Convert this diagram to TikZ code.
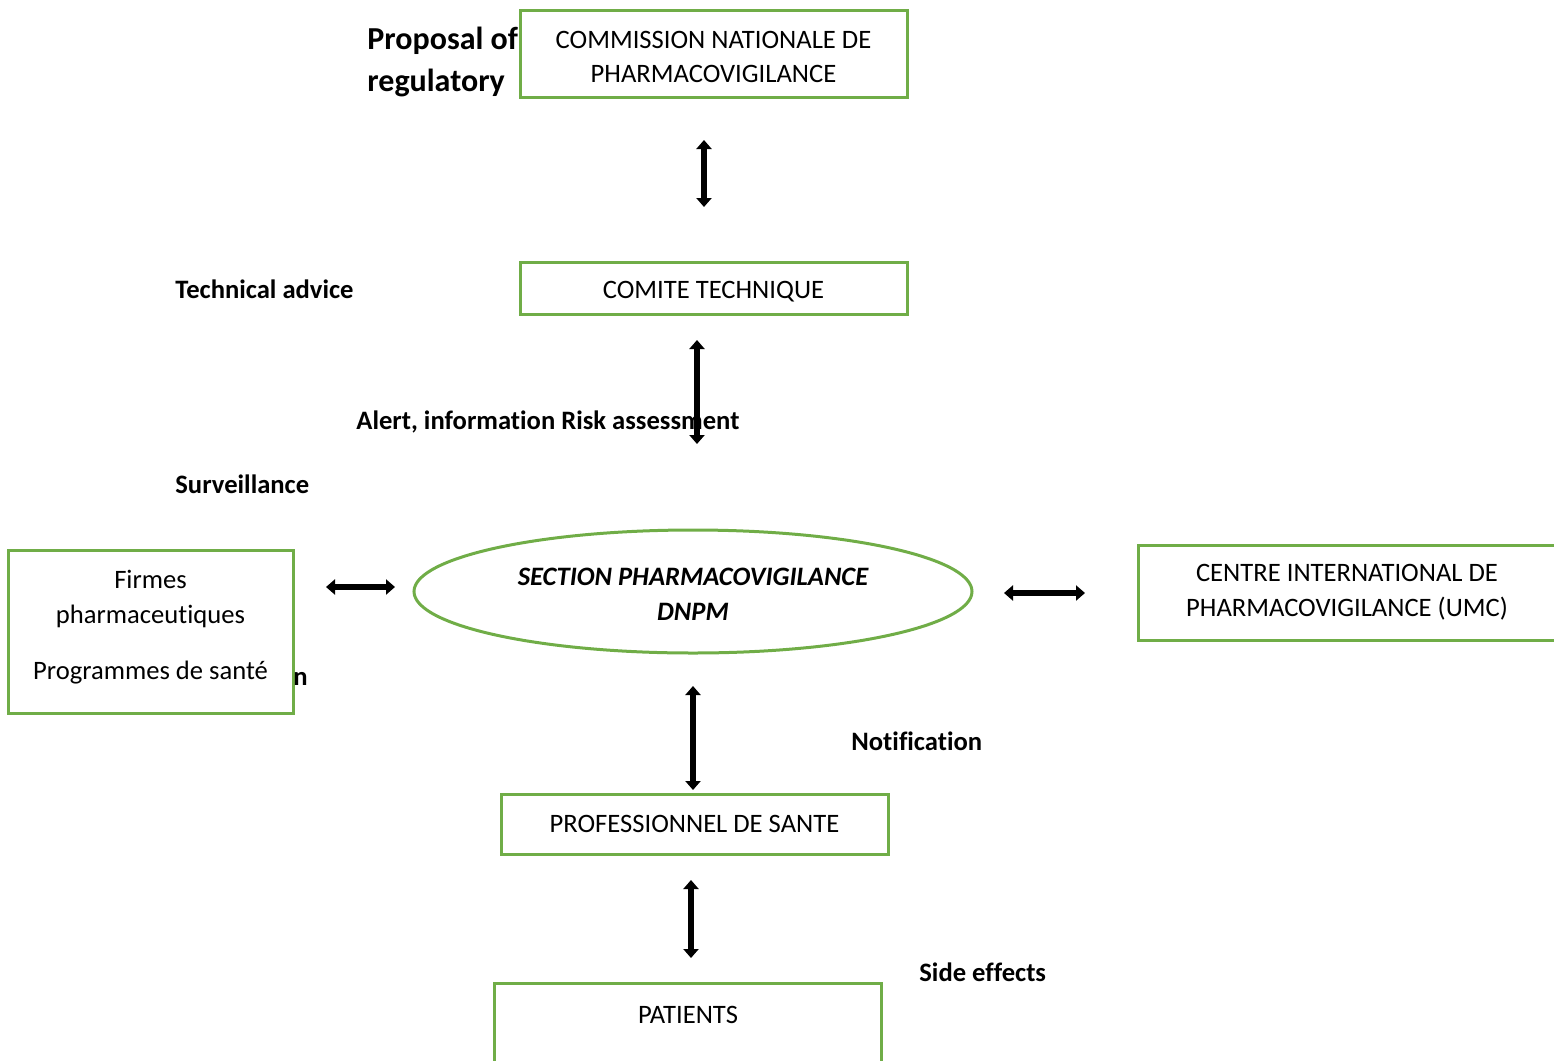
\documentclass[tikz,border=0pt]{standalone}
\usepackage{fontspec}
\setmainfont[Ligatures=NoCommon]{Carlito}
\usetikzlibrary{arrows.meta,shapes.geometric}
\definecolor{pv_green}{RGB}{112, 173, 71}
\tikzstyle{box}=[rectangle,draw=pv_green,line width=1.5pt,align=center,
  inner sep=0pt,minimum width=193.5pt,font=\fontsize{13.3}{17.3}\selectfont]
\tikzstyle{ell}=[ellipse,draw=pv_green,line width=1.5pt,align=center,
  inner sep=0pt,minimum width=279pt,minimum height=61.5pt,
  font=\fontsize{13.3}{17.3}\selectfont\bfseries\itshape]
\tikzstyle{lbl}=[inner sep=0pt,font=\fontsize{13.3}{17.3}\selectfont\bfseries]
\tikzstyle{txt}=[inner sep=0pt,align=center,font=\fontsize{13.3}{17.3}\selectfont]
\tikzstyle{dbl}=[line width=2.6pt,{Triangle[width=7.5pt,length=4.5pt]}-{Triangle[width=7.5pt,length=4.5pt]}]
\tikzstyle{none}=[inner sep=0pt]
\begin{document}
\begin{tikzpicture}[x=0.5pt, y=-0.5pt]
            \useasboundingbox (0, 0) rectangle (1554, 1061);
            \clip (0, 0) rectangle (1554, 1061);
            \node [style=box, minimum height=43.5pt] (0) at (713.5, 53.5) {};
            \node [style=txt] (1) at (713.5, 57) {COMMISSION NATIONALE DE\\PHARMACOVIGILANCE};
            \node [style=box, minimum height=26pt] (2) at (713.5, 288) {};
            \node [style=txt] (3) at (713.5, 292) {COMITE TECHNIQUE};
            \node [style=ell] (4) at (693, 591.5) {};
            \node [style=txt, font=\fontsize{13.3}{17.3}\selectfont\bfseries\itshape] (5) at (693, 594) {SECTION PHARMACOVIGILANCE\\DNPM};
            \node [style=box, minimum width=142.5pt, minimum height=81.5pt] (6) at (150.5, 631.5) {};
            \node [style=txt] (7) at (150.5, 599) {Firmes\\pharmaceutiques};
            \node [style=txt] (8) at (150.5, 673) {Programmes de santé};
            \node [style=box, minimum width=209pt, minimum height=47.5pt] (9) at (1347, 592.5) {};
            \node [style=txt] (10) at (1347, 592) {CENTRE INTERNATIONAL DE\\PHARMACOVIGILANCE (UMC)};
            \node [style=box, minimum height=30pt] (11) at (694.5, 824) {};
            \node [style=txt] (12) at (694.5, 824) {PROFESSIONNEL DE SANTE};
            \node [style=box, minimum height=43.5pt] (13) at (687.5, 1026.5) {};
            \node [style=txt] (14) at (688, 1015) {PATIENTS};
            \node [style=lbl, font=\fontsize{16}{21}\selectfont\bfseries, align=left, anchor=west] (15) at (367, 62) {Proposal of\\regulatory};
            \node [style=lbl, anchor=west] (16) at (175, 289) {Technical advice};
            \node [style=lbl, anchor=west] (17) at (356, 422) {Alert, information Risk assessment};
            \node [style=lbl, anchor=west] (18) at (175, 484) {Surveillance};
            \node [style=lbl, anchor=west] (19) at (293, 679) {n};
            \node [style=lbl, anchor=west] (20) at (851, 741) {Notification};
            \node [style=lbl, anchor=west] (21) at (919, 972) {Side effects};
            \node [style=none] (30) at (704, 140) {};
            \node [style=none] (31) at (704, 207) {};
            \node [style=none] (32) at (697, 340) {};
            \node [style=none] (33) at (697, 444) {};
            \node [style=none] (34) at (326, 587) {};
            \node [style=none] (35) at (395, 587) {};
            \node [style=none] (36) at (1004, 593) {};
            \node [style=none] (37) at (1085, 593) {};
            \node [style=none] (38) at (693, 686) {};
            \node [style=none] (39) at (693, 790) {};
            \node [style=none] (40) at (691, 880) {};
            \node [style=none] (41) at (691, 958) {};
            \draw [style=dbl] (30.center) to (31.center);
            \draw [style=dbl] (32.center) to (33.center);
            \draw [style=dbl] (34.center) to (35.center);
            \draw [style=dbl] (36.center) to (37.center);
            \draw [style=dbl] (38.center) to (39.center);
            \draw [style=dbl] (40.center) to (41.center);
    \end{tikzpicture}
\end{document}
